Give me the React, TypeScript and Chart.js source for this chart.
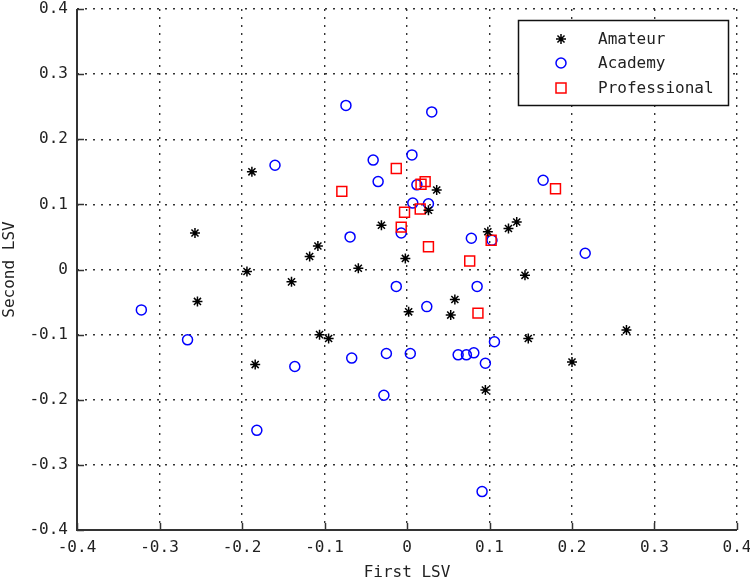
import React, { useEffect, useRef } from "react";
import { Chart, registerables } from "chart.js";

Chart.register(...registerables);

const seriesLabels = ["Amateur", "Academy", "Professional"];

const amateurX = [-0.188, 0.036, 0.026, -0.031, -0.108, -0.118, -0.002, 0.098, -0.194, -0.14, -0.059, 0.058, 0.002, 0.053, -0.106, -0.095, -0.184, 0.123, 0.133, 0.143, 0.147, 0.266, 0.2, -0.257, -0.254, 0.095];
const amateurY = [0.15, 0.122, 0.091, 0.068, 0.036, 0.02, 0.017, 0.058, -0.003, -0.019, 0.002, -0.046, -0.065, -0.07, -0.1, -0.106, -0.146, 0.063, 0.073, -0.009, -0.106, -0.093, -0.142, 0.056, -0.049, -0.185];

const academyX = [-0.074, 0.03, -0.16, -0.041, 0.006, -0.035, 0.012, 0.165, 0.007, 0.026, -0.007, -0.069, 0.078, 0.103, -0.013, 0.085, 0.024, 0.106, -0.136, -0.067, -0.025, 0.004, 0.062, 0.072, 0.081, 0.095, 0.216, -0.322, -0.266, -0.028, -0.182, 0.091];
const academyY = [0.252, 0.242, 0.16, 0.168, 0.176, 0.135, 0.13, 0.137, 0.102, 0.101, 0.056, 0.05, 0.048, 0.045, -0.026, -0.026, -0.057, -0.111, -0.149, -0.136, -0.129, -0.129, -0.131, -0.131, -0.128, -0.144, 0.025, -0.062, -0.108, -0.193, -0.247, -0.341];

const professionalX = [-0.013, -0.079, 0.022, 0.017, 0.18, -0.003, 0.016, -0.007, 0.026, 0.102, 0.076, 0.086];
const professionalY = [0.155, 0.12, 0.135, 0.131, 0.124, 0.088, 0.093, 0.065, 0.035, 0.045, 0.013, -0.067];

const axisMin = -0.4;
const axisMax = 0.4;
const axisStep = 0.1;
const xTitle = "First LSV";
const yTitle = "Second LSV";

const FONT = "'DejaVu Sans Mono', 'Liberation Mono', monospace";
const TEXT = "#222";
const AXIS = "#333";

const toPoints = (xs: number[], ys: number[]) => xs.map((x, i) => ({ x, y: ys[i] }));

function drawStar(ctx: CanvasRenderingContext2D, x: number, y: number, r: number) {
  ctx.beginPath();
  for (let k = 0; k < 4; k++) {
    const a = (k * Math.PI) / 4;
    ctx.moveTo(x - Math.cos(a) * r, y - Math.sin(a) * r);
    ctx.lineTo(x + Math.cos(a) * r, y + Math.sin(a) * r);
  }
  ctx.stroke();
}

const axesAndTicks = {
  id: "axesAndTicks",
  afterDatasetsDraw(chart: any) {
    const { ctx, chartArea, scales } = chart;
    ctx.save();
    ctx.setLineDash([]);
    ctx.strokeStyle = AXIS;
    ctx.lineWidth = 2;
    ctx.beginPath();
    ctx.moveTo(chartArea.left, chartArea.top);
    ctx.lineTo(chartArea.left, chartArea.bottom);
    ctx.lineTo(chartArea.right, chartArea.bottom);
    ctx.stroke();
    ctx.lineWidth = 1.5;
    scales.x.ticks.forEach((t: any) => {
      const px = Math.round(scales.x.getPixelForValue(t.value)) + 0.5;
      ctx.beginPath();
      ctx.moveTo(px, chartArea.bottom);
      ctx.lineTo(px, chartArea.bottom - 7);
      ctx.stroke();
    });
    scales.y.ticks.forEach((t: any) => {
      const py = Math.round(scales.y.getPixelForValue(t.value)) + 0.5;
      ctx.beginPath();
      ctx.moveTo(chartArea.left, py);
      ctx.lineTo(chartArea.left + 7, py);
      ctx.stroke();
    });
    ctx.restore();
  },
};

const boxLegend = {
  id: "boxLegend",
  afterDraw(chart: any) {
    const { ctx } = chart;
    const left = 518;
    const top = 20;
    const w = 210;
    const h = 85;
    ctx.save();
    ctx.setLineDash([]);
    ctx.fillStyle = "#fff";
    ctx.fillRect(left, top, w, h);
    ctx.strokeStyle = "#111";
    ctx.lineWidth = 1.5;
    ctx.strokeRect(left + 0.5, top + 0.5, w, h);
    const rows = [39, 63, 88];
    const mx = 561;
    ctx.font = `16px ${FONT}`;
    ctx.textBaseline = "middle";
    ctx.textAlign = "left";
    chart.data.datasets.forEach((ds: any, i: number) => {
      const y = rows[i];
      ctx.strokeStyle = ds.borderColor;
      ctx.lineWidth = ds.borderWidth;
      if (ds.pointStyle === "star") {
        drawStar(ctx, mx, y, 5);
      } else if (ds.pointStyle === "circle") {
        ctx.beginPath();
        ctx.arc(mx, y, 5, 0, Math.PI * 2);
        ctx.stroke();
      } else {
        ctx.strokeRect(mx - 5, y - 5, 10, 10);
      }
      ctx.fillStyle = TEXT;
      ctx.fillText(ds.label, 598, y + 1);
    });
    ctx.restore();
  },
};

export default function App() {
  const ref = useRef<HTMLCanvasElement | null>(null);

  useEffect(() => {
    document.body.style.margin = "0";
    const canvas = ref.current;
    if (!canvas) return;
    const tickFont = { family: FONT, size: 16 };
    const grid = {
      color: "#333",
      lineWidth: 1.4,
      drawTicks: false,
    };
    const border = { display: false, color: AXIS, width: 2, dash: [2, 6] };
    const tickCb = (v: any) => (Math.abs(v) < 1e-9 ? "0" : Number(v).toFixed(1));
    const chart = new Chart(canvas, {
      type: "scatter",
      data: {
        datasets: [
          {
            label: seriesLabels[0],
            data: toPoints(amateurX, amateurY),
            pointStyle: "star",
            pointRadius: 5,
            borderColor: "#000",
            backgroundColor: "#000",
            borderWidth: 1.5,
            order: 0,
          },
          {
            label: seriesLabels[1],
            data: toPoints(academyX, academyY),
            pointStyle: "circle",
            pointRadius: 5,
            borderColor: "#0000ff",
            backgroundColor: "rgba(0,0,0,0)",
            borderWidth: 1.5,
            order: 2,
          },
          {
            label: seriesLabels[2],
            data: toPoints(professionalX, professionalY),
            pointStyle: "rect",
            pointRadius: 7,
            borderColor: "#ff0000",
            backgroundColor: "rgba(0,0,0,0)",
            borderWidth: 1.5,
            order: 1,
          },
        ],
      },
      options: {
        animation: false,
        responsive: false,
        maintainAspectRatio: false,
        layout: { padding: { left: 0, top: 9, right: 13, bottom: 0 } },
        plugins: {
          legend: { display: false },
          tooltip: { enabled: false },
        },
        scales: {
          x: {
            type: "linear",
            min: axisMin,
            max: axisMax,
            ticks: { stepSize: axisStep, font: tickFont, color: TEXT, padding: 8, callback: tickCb },
            grid,
            border,
            title: { display: true, text: xTitle, font: tickFont, color: TEXT, padding: { top: 0, bottom: 0 } },
            afterFit: (s: any) => {
              s.height = 52;
              s.paddingLeft = 0;
              s.paddingRight = 0;
            },
          },
          y: {
            type: "linear",
            min: axisMin,
            max: axisMax,
            ticks: { stepSize: axisStep, font: tickFont, color: TEXT, padding: 9, callback: tickCb },
            grid,
            border,
            title: { display: true, text: yTitle, font: tickFont, color: TEXT, padding: { top: 0, bottom: 0 } },
            afterFit: (s: any) => {
              s.width = 77;
              s.paddingTop = 0;
              s.paddingBottom = 0;
            },
          },
        },
      },
      plugins: [axesAndTicks, boxLegend],
    } as any);
    return () => chart.destroy();
  }, []);

  return (
    <div style={{ position: "absolute", left: 0, top: 0, width: 750, height: 582, background: "#fff" }}>
      <canvas ref={ref} width={750} height={582} style={{ width: 750, height: 582 }} />
    </div>
  );
}
